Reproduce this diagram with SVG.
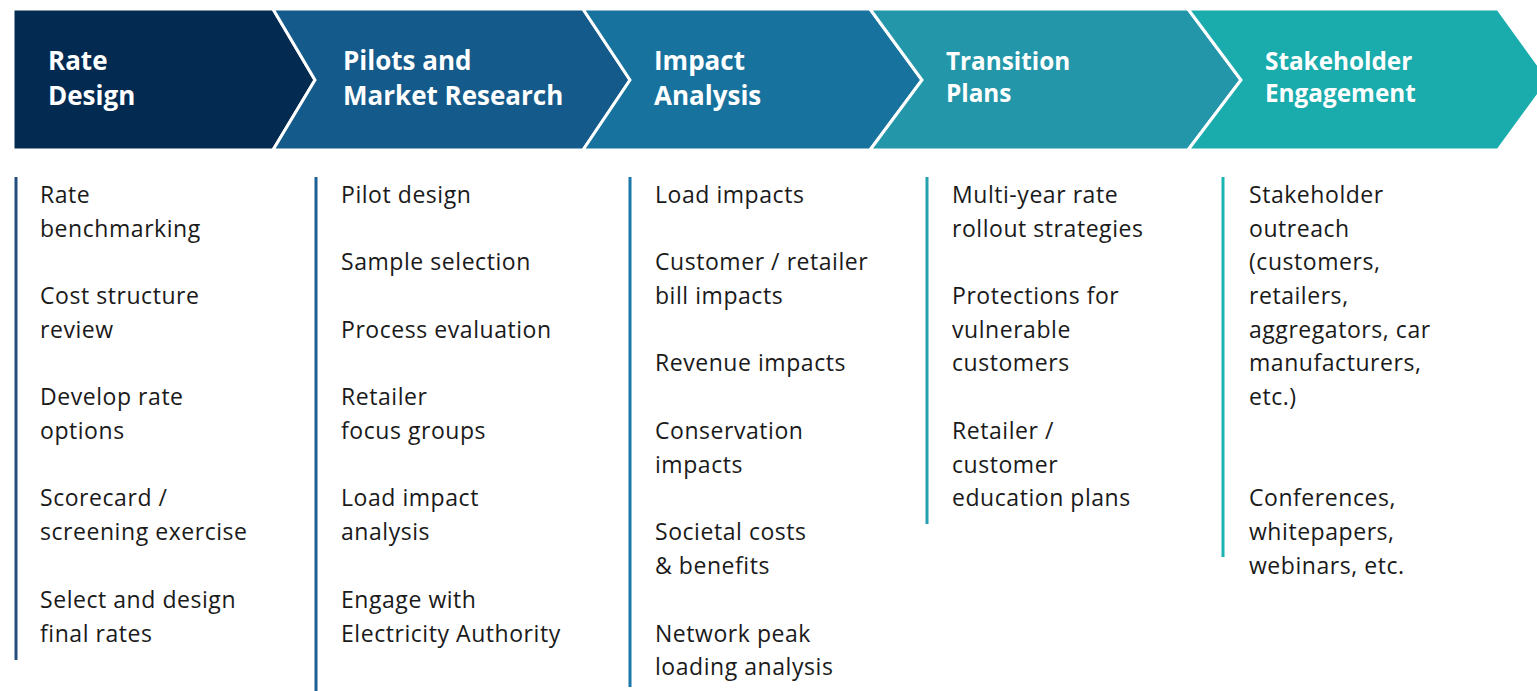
<svg xmlns="http://www.w3.org/2000/svg" width="1537" height="691" viewBox="0 0 1537 691">
  <style>
    .chev { stroke: #ffffff; stroke-width: 3; stroke-linejoin: miter; }
    .title { font-family: "Open Sans", "Liberation Sans", sans-serif; font-weight: 700; fill: #ffffff; }
    .t1 { font-size: 26px; }
    .t2 { font-size: 24.3px; }
    .body { font-family: "Open Sans", "Liberation Sans", sans-serif; font-size: 23px; letter-spacing: 0.55px; fill: #1a1a1a; }
    .bar { stroke-width: 3; fill: none; }
  </style>
  <rect width="1537" height="691" fill="#ffffff"/>

  <!-- Phase chevrons -->
  <g id="phase-rate-design">
    <polygon class="chev" fill="#032b52" points="13,9 273,9 315,80 273,150 13,150"/>
    <text class="title t1" x="48" y="70">Rate</text>
    <text class="title t1" x="48" y="105">Design</text>
  </g>
  <g id="phase-pilots">
    <polygon class="chev" fill="#145a8a" points="273,9 583,9 630,80 583,150 273,150 315,80"/>
    <text class="title t1" x="343" y="70">Pilots and</text>
    <text class="title t1" x="343" y="105">Market Research</text>
  </g>
  <g id="phase-impact">
    <polygon class="chev" fill="#18729e" points="583,9 870,9 922,80 870,150 583,150 630,80"/>
    <text class="title t1" x="654" y="70">Impact</text>
    <text class="title t1" x="654" y="105">Analysis</text>
  </g>
  <g id="phase-transition">
    <polygon class="chev" fill="#2397a9" points="870,9 1188,9 1241,80 1188,150 870,150 922,80"/>
    <text class="title t2" x="946" y="70">Transition</text>
    <text class="title t2" x="946" y="102">Plans</text>
  </g>
  <g id="phase-stakeholder">
    <polygon class="chev" fill="#1aabad" points="1188,9 1498,9 1549,80 1498,150 1188,150 1241,80"/>
    <text class="title t2" x="1265" y="70">Stakeholder</text>
    <text class="title t2" x="1265" y="102">Engagement</text>
  </g>

  <!-- Column accent bars -->
  <g id="connectors">
    <line class="bar" stroke="#254d7e" x1="16" y1="177" x2="16" y2="660"/>
    <line class="bar" stroke="#1d5f94" x1="316" y1="177" x2="316" y2="691"/>
    <line class="bar" stroke="#1c78a8" x1="630" y1="177" x2="630" y2="687"/>
    <line class="bar" stroke="#24a0b0" x1="927" y1="177" x2="927" y2="524"/>
    <line class="bar" stroke="#1cb3b5" x1="1223" y1="177" x2="1223" y2="557"/>
  </g>

  <!-- Column activity lists -->
  <g id="list-rate-design" class="body">
    <text x="40" y="203">Rate</text>
    <text x="40" y="237">benchmarking</text>
    <text x="40" y="304">Cost structure</text>
    <text x="40" y="338">review</text>
    <text x="40" y="405">Develop rate</text>
    <text x="40" y="439">options</text>
    <text x="40" y="506">Scorecard /</text>
    <text x="40" y="540">screening exercise</text>
    <text x="40" y="608">Select and design</text>
    <text x="40" y="642">final rates</text>
  </g>
  <g id="list-pilots" class="body">
    <text x="341" y="203">Pilot design</text>
    <text x="341" y="270">Sample selection</text>
    <text x="341" y="338">Process evaluation</text>
    <text x="341" y="405">Retailer</text>
    <text x="341" y="439">focus groups</text>
    <text x="341" y="506">Load impact</text>
    <text x="341" y="540">analysis</text>
    <text x="341" y="608">Engage with</text>
    <text x="341" y="642">Electricity Authority</text>
  </g>
  <g id="list-impact" class="body">
    <text x="655" y="203">Load impacts</text>
    <text x="655" y="270">Customer / retailer</text>
    <text x="655" y="304">bill impacts</text>
    <text x="655" y="371">Revenue impacts</text>
    <text x="655" y="439">Conservation</text>
    <text x="655" y="473">impacts</text>
    <text x="655" y="540">Societal costs</text>
    <text x="655" y="574">&amp; benefits</text>
    <text x="655" y="642">Network peak</text>
    <text x="655" y="675">loading analysis</text>
  </g>
  <g id="list-transition" class="body">
    <text x="952" y="203">Multi-year rate</text>
    <text x="952" y="237">rollout strategies</text>
    <text x="952" y="304">Protections for</text>
    <text x="952" y="338">vulnerable</text>
    <text x="952" y="371">customers</text>
    <text x="952" y="439">Retailer /</text>
    <text x="952" y="473">customer</text>
    <text x="952" y="506">education plans</text>
  </g>
  <g id="list-stakeholder" class="body">
    <text x="1249" y="203">Stakeholder</text>
    <text x="1249" y="237">outreach</text>
    <text x="1249" y="270">(customers,</text>
    <text x="1249" y="304">retailers,</text>
    <text x="1249" y="338">aggregators, car</text>
    <text x="1249" y="371">manufacturers,</text>
    <text x="1249" y="405">etc.)</text>
    <text x="1249" y="506">Conferences,</text>
    <text x="1249" y="540">whitepapers,</text>
    <text x="1249" y="574">webinars, etc.</text>
  </g>
</svg>
